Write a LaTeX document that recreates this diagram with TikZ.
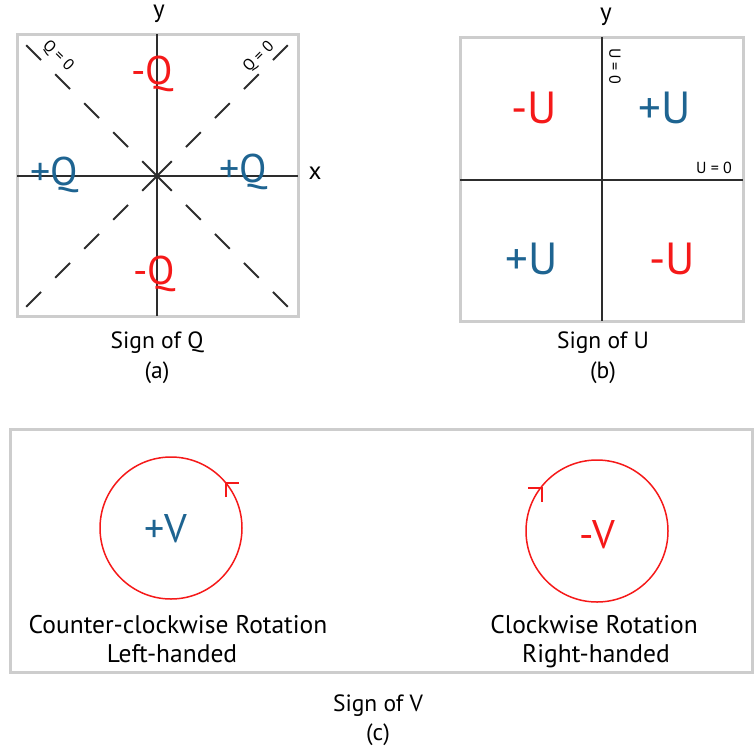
\documentclass[tikz,border=0pt]{standalone}
\usepackage{fontspec}
\setmainfont{PT Sans}
\usepackage{xcolor}
\definecolor{signred}{RGB}{245, 25, 25}
\definecolor{signblue}{RGB}{30, 100, 145}
\definecolor{framegray}{RGB}{205, 205, 205}
\definecolor{axisgray}{RGB}{45, 45, 45}
\usepackage{tikz}
\usetikzlibrary{positioning, calc}
\newcommand{\signfont}{\fontsize{40}{44}\selectfont}
\newcommand{\usignfont}{\fontsize{45}{48}\selectfont}
\newcommand{\capfont}{\fontsize{23.5}{28}\selectfont}
\newcommand{\rotfont}{\fontsize{25.5}{28}\selectfont}
\newcommand{\zerofont}{\fontsize{16}{18}\selectfont}
\newcommand{\axfont}{\fontsize{25}{28}\selectfont}

\begin{document}
\begin{tikzpicture}[x=1pt, y=-1pt,
    frame/.style={draw=framegray, line width=3pt},
    axis/.style={draw=axisgray, line width=1.6pt},
    nullline/.style={draw=axisgray, line width=1.8pt, dash pattern=on 21pt off 20pt},
    negsign/.style={text=signred, font=\signfont, inner sep=0pt, anchor=base},
    possign/.style={text=signblue, font=\signfont, inner sep=0pt, anchor=base},
    zerolabel/.style={font=\zerofont, inner sep=0pt, text=black},
    axlabel/.style={font=\axfont, inner sep=0pt},
    capt/.style={font=\capfont, inner sep=0pt, anchor=base},
    rotcapt/.style={font=\rotfont, inner sep=0pt, anchor=base},
    rotline/.style={draw=signred, line width=1.5pt}]

    % page size
    \useasboundingbox (0,0) rectangle (755,748);

    % (a) Sign of Q
    \draw[frame] (17,34) rectangle (298,316);
    \coordinate (qo) at (157,176);
    \draw[axis] (157,34) -- (157,316);
    \draw[axis] (17,176) -- (298,176);
    \foreach \ex/\ey in {25/308, 289/308, 25/44, 289/44} {
        \draw[nullline] (qo) -- (\ex,\ey);
    }
    \node[zerolabel, rotate=-45] (qzeroleft) at (58,56) {Q = 0};
    \node[zerolabel, rotate=45] (qzeroright) at (259,57) {Q = 0};
    \node[negsign] (qtop) at (152,84) {-Q};
    \node[negsign] (qbottom) at (154,284) {-Q};
    \node[possign] (qleft) at (54,185) {+Q};
    \node[possign] (qright) at (243,182) {+Q};
    \node[axlabel] (qx) at (315,173) {x};
    \node[axlabel] (qy) at (159,14) {y};
    \node[capt] (qcap) at (157,348) {Sign of Q};
    \node[capt] (qtag) at (157,378) {(a)};

    % (b) Sign of U
    \draw[frame] (460,37) rectangle (743,321);
    \draw[axis] (602,37) -- (602,321);
    \draw[axis] (460,180) -- (743,180);
    \node[zerolabel, rotate=-90] (uzerov) at (615,66) {U = 0};
    \node[zerolabel] (uzeroh) at (714,168) {U = 0};
    \node[negsign, font=\usignfont] (utl) at (534,123) {-U};
    \node[possign, font=\usignfont] (utr) at (665,123) {+U};
    \node[possign, font=\usignfont] (ubl) at (532,274) {+U};
    \node[negsign, font=\usignfont] (ubr) at (672,274) {-U};
    \node[axlabel] (uy) at (606,17) {y};
    \node[capt] (ucap) at (603,348) {Sign of U};
    \node[capt] (utag) at (603,378) {(b)};

    % (c) Sign of V
    \draw[frame] (10,429) rectangle (752,672);
    \draw[rotline] (171,528) circle (71);
    \draw[rotline] (226,497) -- (226,483) -- (239,483);
    \draw[rotline] (597,531) circle (71);
    \draw[rotline] (528,488) -- (542,488) -- (542,502);
    \node[possign] (vplus) at (166,542) {+V};
    \node[negsign] (vminus) at (597,548) {-V};
    \node[rotcapt] (ccw) at (178,633) {Counter-clockwise Rotation};
    \node[rotcapt] (ccwhand) at (172,662) {Left-handed};
    \node[rotcapt] (cw) at (594,633) {Clockwise Rotation};
    \node[rotcapt] (cwhand) at (596,662) {Right-handed};
    \node[capt] (vcap) at (378,711) {Sign of V};
    \node[capt] (vtag) at (378,740) {(c)};

\end{tikzpicture}
\end{document}
